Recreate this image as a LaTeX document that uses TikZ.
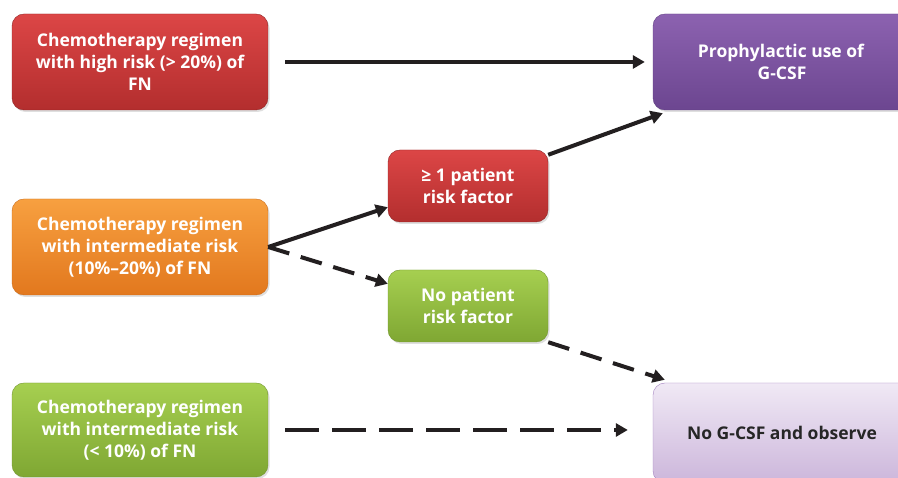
\documentclass[tikz,border=0pt]{standalone}
\usepackage{fontspec}
\setmainfont{Open Sans}
\usetikzlibrary{arrows.meta,calc,shadows}

\definecolor{redtop}{HTML}{DC4646}
\definecolor{redbot}{HTML}{B32E2E}
\definecolor{orangetop}{HTML}{F7A040}
\definecolor{orangebot}{HTML}{E2781E}
\definecolor{greentop}{HTML}{A6CF50}
\definecolor{greenbot}{HTML}{7FA733}
\definecolor{purpletop}{HTML}{8C62B0}
\definecolor{purplebot}{HTML}{6C4690}
\definecolor{lavtop}{HTML}{F0E9F5}
\definecolor{lavbot}{HTML}{CCB6DB}
\definecolor{linkcol}{HTML}{231F20}

\tikzset{
    box/.style={rounded corners=12pt, align=center, font=\fontsize{17.5}{22}\selectfont\bfseries,
        text=white, drop shadow={shadow xshift=1.5pt, shadow yshift=-2pt, opacity=0.25}},
    bigbox/.style={box, minimum width=256pt, minimum height=96pt},
    smallbox/.style={box, minimum width=160pt, minimum height=72pt},
    redbox/.style={draw=redbot!80!black, top color=redtop, bottom color=redbot},
    orangebox/.style={draw=orangebot!90!black, top color=orangetop, bottom color=orangebot},
    greenbox/.style={draw=greenbot!90!black, top color=greentop, bottom color=greenbot},
    purplebox/.style={draw=purplebot!90!black, top color=purpletop, bottom color=purplebot},
    lavbox/.style={draw=purpletop!80, top color=lavtop, bottom color=lavbot, text=black!85},
    link/.style={draw=linkcol, line width=4pt, -{Triangle[length=12pt,width=13pt]}},
    dashlink/.style={link, dash pattern=on 22pt off 12pt},
    longdash/.style={link, dash pattern=on 34pt off 13pt}
}

\begin{document}
\begin{tikzpicture}[x=1pt,y=1pt]
    \useasboundingbox (0,0) rectangle (898,478);
    \fill[white] (0,0) rectangle (898,478);

    % left column
    \node[bigbox, redbox] (high) at (140,416) {Chemotherapy regimen\\with high risk (> 20\%) of\\FN};
    \node[bigbox, orangebox] (mid) at (140,231) {Chemotherapy regimen\\with intermediate risk\\(10\%--20\%) of FN};
    \node[bigbox, greenbox, minimum height=94pt] (low) at (140,48) {Chemotherapy regimen\\with intermediate risk\\(< 10\%) of FN};

    % middle column
    \node[smallbox, redbox] (risk) at (468,292) {≥ 1 patient\\risk factor};
    \node[smallbox, greenbox] (norisk) at (468,172) {No patient\\risk factor};

    % right column
    \node[bigbox, purplebox, minimum width=258pt] (gcsf) at (782,416) {\hspace*{-2pt}Prophylactic use of\\G-CSF};
    \node[bigbox, lavbox, minimum width=258pt, minimum height=100pt] (observe) at (782,45) {No G-CSF and observe};

    % arrows
    \draw[link, shorten <=17pt, shorten >=8pt] (high.east) -- (high.east -| gcsf.west);
    \draw[link] (mid.east) -- ($(risk.south west)+(0,15)$);
    \draw[dashlink] (mid.east) -- ($(norisk.north west)+(0,-14)$);
    \draw[link] ($(risk.north east)+(0,-5)$) -- ($(gcsf.south west)+(10,-3)$);
    \draw[dashlink] (norisk.south east) -- ($(observe.north west)+(12,3)$);
    \draw[longdash, shorten <=17pt, shorten >=25pt] (low.east) -- (low.east -| observe.west);
\end{tikzpicture}
\end{document}
